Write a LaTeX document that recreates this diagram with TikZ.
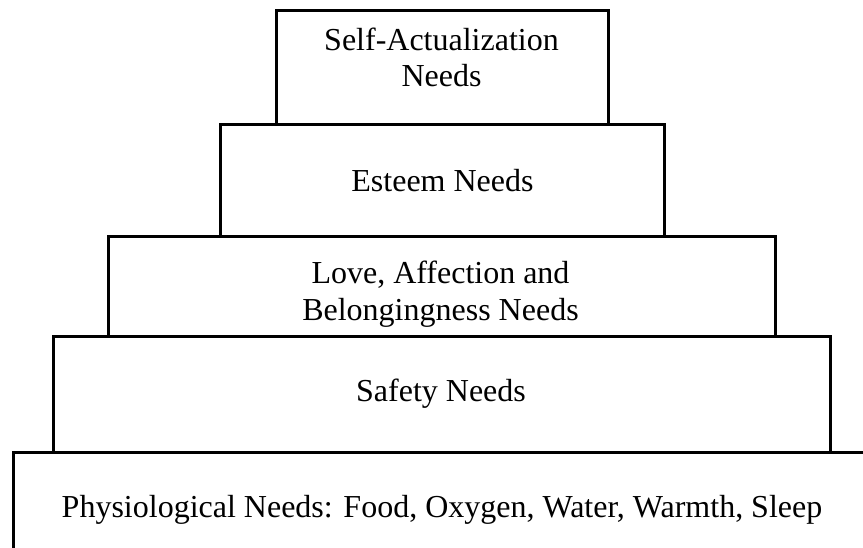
\documentclass[tikz,border=0pt]{standalone}
\usepackage{fontspec}
\setmainfont{Liberation Serif}
\begin{document}
\begin{tikzpicture}[x=1pt,y=-1pt,
  level/.style={draw=black,line width=3pt,rectangle,inner sep=0pt,outer sep=0pt,fill=none},
  lbl/.style={inner sep=0pt,anchor=base,font=\fontsize{32}{38}\selectfont}]
\useasboundingbox (0,0) rectangle (863,548);
\clip (0,0) rectangle (863,548);
\fill[white] (0,0) rectangle (863,548);
% boxes
\node[level,minimum width=856pt,minimum height=120pt] (phys) at (441,512) {};
\node[level,minimum width=777pt,minimum height=115pt] (safety) at (441.5,394.5) {};
\node[level,minimum width=667pt,minimum height=100pt] (love) at (441.5,287) {};
\node[level,minimum width=444pt,minimum height=112pt] (esteem) at (442,181) {};
\node[level,minimum width=332pt,minimum height=114pt] (self) at (442,68) {};
% labels
\node[lbl] (physlabel) at (442,517) {Physiological Needs: Food, Oxygen, Water, Warmth, Sleep};
\node[lbl] (safetylabel) at (441,401) {Safety Needs};
\node[lbl] (lovelabelA) at (440.5,284) {Love, Affection and};
\node[lbl] (lovelabelB) at (440.5,321) {Belongingness Needs};
\node[lbl] (esteemlabel) at (442.5,192) {Esteem Needs};
\node[lbl] (selflabelA) at (441.5,51) {Self-Actualization};
\node[lbl] (selflabelB) at (441.5,87) {Needs};
\end{tikzpicture}
\end{document}
